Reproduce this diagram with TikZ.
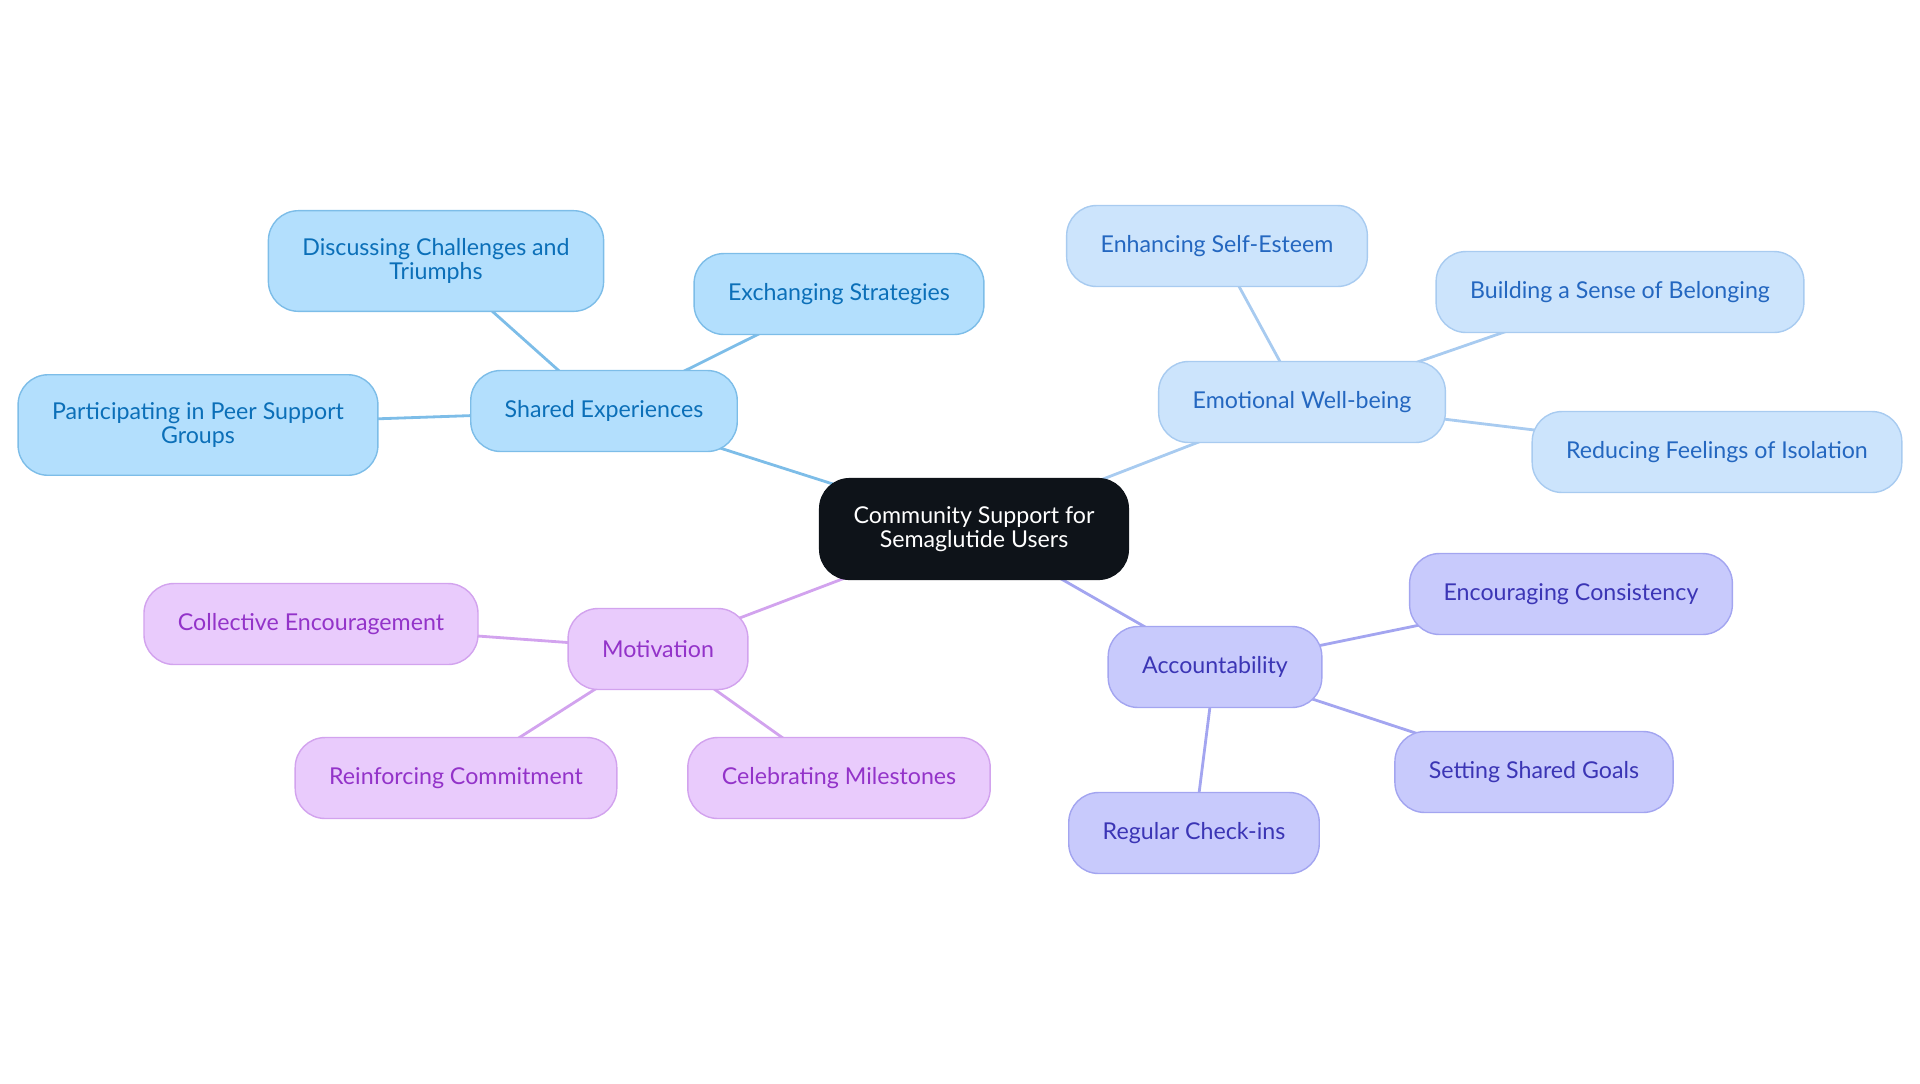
\documentclass[tikz,border=0pt]{standalone}
\usepackage{fontspec}
\setmainfont{Lato}
\usetikzlibrary{backgrounds}
\definecolor{myblack}{HTML}{0E1319}
\definecolor{mysky}{HTML}{B3DFFD}
\definecolor{myskyline}{HTML}{7DBDE8}
\definecolor{myskytext}{HTML}{0B6FB8}
\definecolor{myblue}{HTML}{CCE4FC}
\definecolor{mybluedraw}{HTML}{A8CBF0}
\definecolor{mybluetext}{HTML}{2467C0}
\definecolor{mypurple}{HTML}{E9CBFC}
\definecolor{mypurpledraw}{HTML}{D2A3EE}
\definecolor{mypurpletext}{HTML}{9333C9}
\definecolor{myviolet}{HTML}{C8CAFC}
\definecolor{myvioletdraw}{HTML}{A3A5F0}
\definecolor{myviolettext}{HTML}{3B35B5}

\begin{document}
\begin{tikzpicture}[x=0.02cm,y=-0.02cm,
every node/.style={rounded corners=0.6cm, align=center, inner xsep=0.68cm,
  inner ysep=0.55cm, minimum height=1.62cm, line width=0.8pt,
  font=\fontsize{13.2}{14}\selectfont},
hub/.style={fill=myblack, draw=myblack, text=white},
shared/.style={fill=mysky, draw=myskyline, text=myskytext},
emotional/.style={fill=myblue, draw=mybluedraw, text=mybluetext},
motive/.style={fill=mypurple, draw=mypurpledraw, text=mypurpletext},
account/.style={fill=myviolet, draw=myvioletdraw, text=myviolettext},
link/.style={line width=1.6pt}]
\useasboundingbox (0,0) rectangle (1920,1083);
% centre
\node [hub] (hub) at (974,529) {Community Support for\\Semaglutide Users};
% shared experiences
\node [shared] (shared) at (604,411) {Shared Experiences};
\node [shared] (discuss) at (436,261) {Discussing Challenges and\\Triumphs};
\node [shared] (exchange) at (839,294) {Exchanging Strategies};
\node [shared] (peer) at (198,425) {Participating in Peer Support\\Groups};
% emotional well-being
\node [emotional] (wellbeing) at (1302,402) {Emotional Well-being};
\node [emotional] (esteem) at (1217,246) {Enhancing Self-Esteem};
\node [emotional] (belong) at (1620,292) {Building a Sense of Belonging};
\node [emotional] (isolation) at (1717,452) {Reducing Feelings of Isolation};
% motivation
\node [motive] (motivation) at (658,649) {Motivation};
\node [motive] (collective) at (311,624) {Collective Encouragement};
\node [motive] (commitment) at (456,778) {Reinforcing Commitment};
\node [motive] (milestones) at (839,778) {Celebrating Milestones};
% accountability
\node [account] (accountability) at (1215,667) {Accountability};
\node [account] (consistency) at (1571,594) {Encouraging Consistency};
\node [account] (goals) at (1534,772) {Setting Shared Goals};
\node [account] (checkins) at (1194,833) {Regular Check-ins};
% links, behind the boxes
\begin{scope}[on background layer]
\draw [link, myskyline] (hub.center) -- (shared.center);
\draw [link, myskyline] (shared.center) -- (discuss.center);
\draw [link, myskyline] (shared.center) -- (exchange.center);
\draw [link, myskyline] (shared.center) -- (peer.center);
\draw [link, mybluedraw] (hub.center) -- (wellbeing.center);
\draw [link, mybluedraw] (wellbeing.center) -- (esteem.center);
\draw [link, mybluedraw] (wellbeing.center) -- (belong.center);
\draw [link, mybluedraw] (wellbeing.center) -- (isolation.center);
\draw [link, mypurpledraw] (hub.center) -- (motivation.center);
\draw [link, mypurpledraw] (motivation.center) -- (collective.center);
\draw [link, mypurpledraw] (motivation.center) -- (commitment.center);
\draw [link, mypurpledraw] (motivation.center) -- (milestones.center);
\draw [link, myvioletdraw] (hub.center) -- (accountability.center);
\draw [link, myvioletdraw] (accountability.center) -- (consistency.center);
\draw [link, myvioletdraw] (accountability.center) -- (goals.center);
\draw [link, myvioletdraw] (accountability.center) -- (checkins.center);
\end{scope}
\end{tikzpicture}
\end{document}
